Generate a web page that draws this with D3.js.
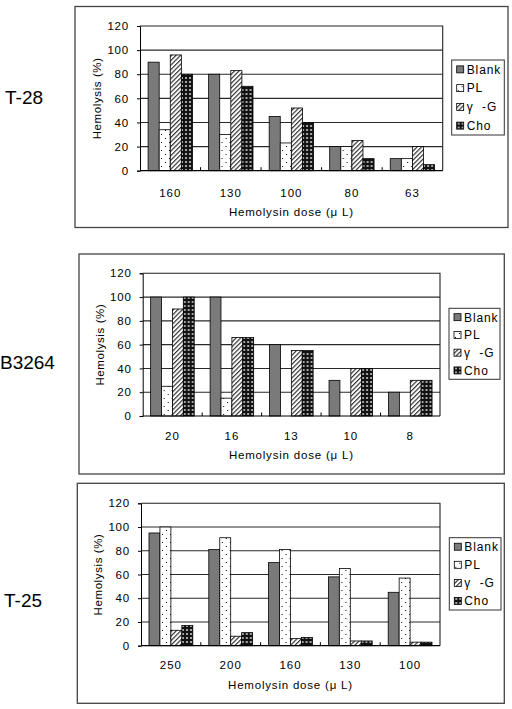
<!DOCTYPE html>
<html>
<head>
<meta charset="utf-8">
<script src="https://cdn.jsdelivr.net/npm/d3@7"></script>
<style>
  body { margin: 0; background: #fff; }
  text { font-family: "Liberation Sans", Arial, sans-serif; fill: #000; }
</style>
</head>
<body>
<svg id="chart"></svg>
<script>
// series names, legend order
var seriesNames = ["Blank", "PL", "γ  -G", "Cho"];
var seriesKeys = ["blank", "pl", "gg", "cho"];

// T-28
var t28Doses = ["160", "130", "100", "80", "63"];
var t28Blank = [90, 80, 45, 20, 10];
var t28PL    = [34, 30, 23, 20, 10];
var t28GG    = [96, 83, 52, 25, 20];
var t28Cho   = [80, 70, 40, 10, 5];

// B3264
var b3264Doses = ["20", "16", "13", "10", "8"];
var b3264Blank = [100, 100, 60, 30, 20];
var b3264PL    = [25, 15, 0, 0, 0];
var b3264GG    = [90, 66, 55, 40, 30];
var b3264Cho   = [100, 66, 55, 40, 30];

// T-25
var t25Doses = ["250", "200", "160", "130", "100"];
var t25Blank = [95, 81, 70, 58, 45];
var t25PL    = [100, 91, 81, 65, 57];
var t25GG    = [13, 8, 6, 4, 3];
var t25Cho   = [17, 11, 7, 4, 3];

var yTicks = [0, 20, 40, 60, 80, 100, 120];

var width = 512, height = 709;
var svg = d3.select("#chart").attr("width", width).attr("height", height);

// fill patterns
var defs = svg.append("defs");

var pDots = defs.append("pattern").attr("id", "pat-pl")
  .attr("patternUnits", "userSpaceOnUse").attr("width", 8).attr("height", 8);
pDots.append("rect").attr("width", 8).attr("height", 8).attr("fill", "#fff");
pDots.append("rect").attr("x", 1).attr("y", 2).attr("width", 1).attr("height", 1).attr("fill", "#000");
pDots.append("rect").attr("x", 5).attr("y", 6).attr("width", 1).attr("height", 1).attr("fill", "#000");

var pHatch = defs.append("pattern").attr("id", "pat-gg")
  .attr("patternUnits", "userSpaceOnUse").attr("width", 3.2).attr("height", 3.2)
  .attr("patternTransform", "rotate(45)");
pHatch.append("rect").attr("width", 3.2).attr("height", 3.2).attr("fill", "#fff");
pHatch.append("line").attr("x1", 0.6).attr("y1", 0).attr("x2", 0.6).attr("y2", 3.2)
  .attr("stroke", "#222").attr("stroke-width", 1.1);

var pCho = defs.append("pattern").attr("id", "pat-cho")
  .attr("patternUnits", "userSpaceOnUse").attr("width", 4).attr("height", 4);
pCho.append("rect").attr("width", 4).attr("height", 4).attr("fill", "#111");
pCho.append("circle").attr("cx", 2).attr("cy", 2).attr("r", 1.1).attr("fill", "#c8c8c8");

var fills = { blank: "#7a7a7a", pl: "url(#pat-pl)", gg: "url(#pat-gg)", cho: "url(#pat-cho)" };

var panels = [
  { name: "T-28", side: { x: 5, y: 104, anchor: "start" },
    doses: t28Doses, values: { blank: t28Blank, pl: t28PL, gg: t28GG, cho: t28Cho },
    box: { x: 75, y: 6.5, w: 433, h: 221 },
    plot: { l: 140, r: 442.7, t: 26, b: 170.7 },
    legend: { x: 451.7, y: 60, w: 52.6, h: 75 },
    xLabelY: 197, titleY: 215.5, yTitleX: 97 },
  { name: "B3264", side: { x: 0, y: 369, anchor: "start" },
    doses: b3264Doses, values: { blank: b3264Blank, pl: b3264PL, gg: b3264GG, cho: b3264Cho },
    box: { x: 79, y: 254, w: 425.3, h: 220 },
    plot: { l: 142.7, r: 440, t: 273.3, b: 416 },
    legend: { x: 449, y: 308.3, w: 51, h: 71 },
    xLabelY: 440, titleY: 459, yTitleX: 100 },
  { name: "T-25", side: { x: 4, y: 607, anchor: "start" },
    doses: t25Doses, values: { blank: t25Blank, pl: t25PL, gg: t25GG, cho: t25Cho },
    box: { x: 77.3, y: 483.3, w: 427, h: 220 },
    plot: { l: 141, r: 440, t: 503.3, b: 645.7 },
    legend: { x: 449.3, y: 537.7, w: 51.7, h: 72.3 },
    xLabelY: 669, titleY: 689, yTitleX: 98 }
];

panels.forEach(drawPanel);

function drawPanel(p) {
  var g = svg.append("g");

  // side label
  svg.append("text")
    .attr("x", p.side.x).attr("y", p.side.y)
    .attr("text-anchor", p.side.anchor)
    .style("font-size", "19px")
    .text(p.name);

  // outer frame
  g.append("rect")
    .attr("x", p.box.x).attr("y", p.box.y)
    .attr("width", p.box.w).attr("height", p.box.h)
    .attr("fill", "none").attr("stroke", "#444").attr("stroke-width", 1.3);

  var x0 = d3.scaleBand().domain(p.doses).range([p.plot.l, p.plot.r]);
  var x1 = d3.scaleBand().domain(seriesKeys).range([0, x0.bandwidth()]).paddingOuter(0.73);
  var y = d3.scaleLinear().domain([0, 120]).range([p.plot.b, p.plot.t]);

  // gridlines
  g.append("g").selectAll("line")
    .data(yTicks.filter(function(d) { return d > 0 && d < 120; }))
    .enter().append("line")
    .attr("x1", p.plot.l).attr("x2", p.plot.r)
    .attr("y1", function(d) { return y(d); }).attr("y2", function(d) { return y(d); })
    .attr("stroke", "#2a2a2a").attr("stroke-width", 1.1);

  // plot frame (top and right)
  g.append("path")
    .attr("d", "M" + p.plot.l + "," + y(120) + "H" + p.plot.r + "V" + y(0))
    .attr("fill", "none").attr("stroke", "#222").attr("stroke-width", 1.1);

  // bars
  var rows = p.doses.map(function(d, i) {
    return { dose: d, items: seriesKeys.map(function(k) { return { key: k, v: p.values[k][i] }; }) };
  });
  g.append("g").selectAll("g").data(rows).enter().append("g")
    .attr("transform", function(d) { return "translate(" + x0(d.dose) + ",0)"; })
    .selectAll("rect")
    .data(function(d) { return d.items.filter(function(e) { return e.v > 0; }); })
    .enter().append("rect")
    .attr("x", function(d) { return x1(d.key); })
    .attr("width", x1.bandwidth())
    .attr("y", function(d) { return y(d.v); })
    .attr("height", function(d) { return y(0) - y(d.v); })
    .attr("fill", function(d) { return fills[d.key]; })
    .attr("stroke", "#000").attr("stroke-width", 0.8);

  // y axis
  var yAxis = g.append("g")
    .attr("transform", "translate(" + p.plot.l + ",0)")
    .call(d3.axisLeft(y).tickValues(yTicks).tickSize(3).tickPadding(8));
  yAxis.select(".domain").attr("stroke", "#000");
  yAxis.selectAll(".tick line").attr("stroke", "#000");
  yAxis.selectAll("text")
    .style("font-size", "11.5px").style("letter-spacing", "0.8px")
    .attr("fill", "#000").style("font-family", "'Liberation Sans', Arial, sans-serif");

  // x axis line with small inward ticks between categories
  g.append("line")
    .attr("x1", p.plot.l).attr("x2", p.plot.r)
    .attr("y1", y(0)).attr("y2", y(0))
    .attr("stroke", "#000").attr("stroke-width", 1.2);
  g.append("g").selectAll("line")
    .data(p.doses.slice(1))
    .enter().append("line")
    .attr("x1", function(d) { return x0(d); }).attr("x2", function(d) { return x0(d); })
    .attr("y1", y(0)).attr("y2", y(0) - 3.5)
    .attr("stroke", "#000");

  g.append("g").selectAll("text")
    .data(p.doses)
    .enter().append("text")
    .attr("x", function(d) { return x0(d) + x0.bandwidth() / 2; })
    .attr("y", p.xLabelY)
    .attr("text-anchor", "middle")
    .style("font-size", "11.5px").style("letter-spacing", "1px")
    .text(function(d) { return d; });

  // axis titles
  g.append("text")
    .attr("x", (p.plot.l + p.plot.r) / 2).attr("y", p.titleY)
    .attr("text-anchor", "middle")
    .style("font-size", "11.5px").style("letter-spacing", "0.8px")
    .style("white-space", "pre")
    .text("Hemolysin dose (μ L)");

  g.append("text")
    .attr("transform", "translate(" + p.yTitleX + "," + ((p.plot.t + p.plot.b) / 2) + ") rotate(-90)")
    .attr("text-anchor", "middle")
    .attr("dy", "0.35em")
    .style("font-size", "11.5px").style("letter-spacing", "0.6px")
    .text("Hemolysis (%)");

  // legend
  var lg = g.append("g");
  lg.append("rect")
    .attr("x", p.legend.x).attr("y", p.legend.y)
    .attr("width", p.legend.w).attr("height", p.legend.h)
    .attr("fill", "#fff").attr("stroke", "#333").attr("stroke-width", 1);
  var step = p.legend.h / 4;
  var items = lg.selectAll("g.item").data(seriesKeys).enter().append("g")
    .attr("transform", function(d, i) {
      return "translate(" + (p.legend.x + 5) + "," + (p.legend.y + step * (i + 0.5)) + ")";
    });
  items.append("rect")
    .attr("x", 0).attr("y", -3.5).attr("width", 7).attr("height", 7)
    .attr("fill", function(d) { return fills[d]; })
    .attr("stroke", "#000").attr("stroke-width", 0.8);
  items.append("text")
    .attr("x", 10).attr("dy", "0.36em")
    .style("font-size", "12px").style("letter-spacing", "0.9px")
    .style("white-space", "pre")
    .text(function(d, i) { return seriesNames[i]; });
}
</script>
</body>
</html>
